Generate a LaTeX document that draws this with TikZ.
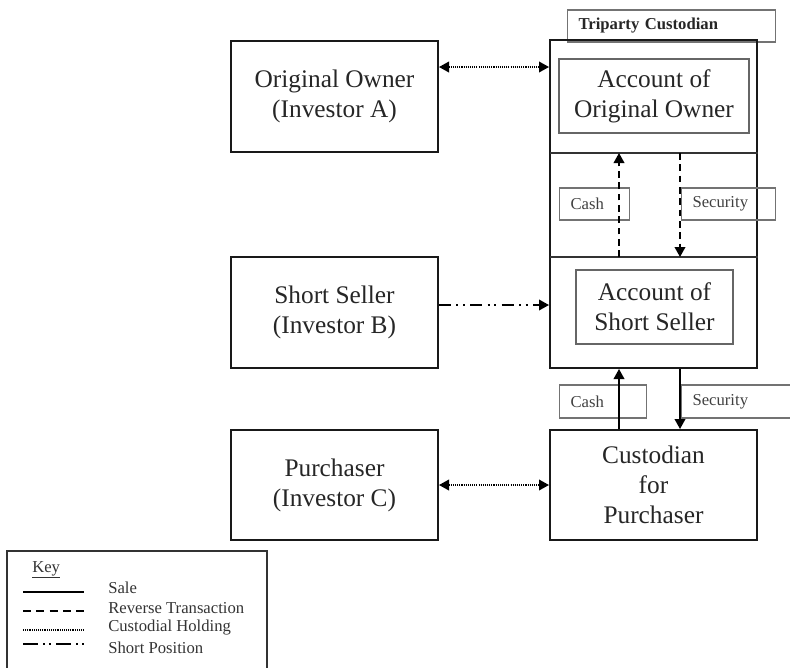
\documentclass[tikz,border=0pt]{standalone}
\usepackage{fontspec}
\setmainfont{Liberation Serif}
\usetikzlibrary{arrows.meta}
\begin{document}
\begin{tikzpicture}[x=0.75pt,y=-0.75pt,
  mainbox/.style={draw=black!90, line width=1.5pt, align=center, inner sep=0pt,
    font=\fontsize{19}{22.5}\selectfont, text=black!85, minimum width=155.25pt},
  acctbox/.style={draw=black!60, line width=1.1pt, align=center, inner sep=0pt,
    font=\fontsize{19}{22.5}\selectfont, text=black!85, minimum height=55.5pt},
  lblbox/.style={draw=black!55, line width=0.8pt, inner ysep=0pt, inner xsep=8.25pt,
    align=left, anchor=west, font=\fontsize{12.5}{14}\selectfont, text=black!75},
  keytext/.style={anchor=west, inner sep=0pt, font=\fontsize{12.5}{14}\selectfont, text=black!80},
  divline/.style={draw=black!80, line width=0.9pt},
  tipped/.style={-{Triangle[length=7.5pt,width=8pt]}},
  bothtip/.style={{Triangle[length=7.5pt,width=8pt]}-{Triangle[length=7.5pt,width=8pt]}},
  conn/.style={draw=black, line width=1.1pt},
  revline/.style={draw=black, line width=1.1pt, dash pattern=on 5pt off 3.5pt},
  custline/.style={draw=black, line width=1.1pt, dash pattern=on 0.8pt off 0.8pt},
  shortline/.style={draw=black, line width=1.1pt, dash pattern=on 9pt off 4pt on 1.5pt off 3.5pt on 1.5pt off 4pt}
]
\useasboundingbox (0,0) rectangle (790,668);
\clip (0,0) rectangle (790,668);

% left column
\node[mainbox, minimum height=83.25pt] (oo) at (334.5,96.5) {Original Owner\\(Investor A)};
\node[mainbox, minimum height=83.25pt] (ss) at (334.5,312.5) {Short Seller\\(Investor B)};
\node[mainbox, minimum height=82.5pt] (pu) at (334.5,485) {Purchaser\\(Investor C)};

% triparty custodian
\node[lblbox, minimum height=24pt, text width=139.5pt, font=\bfseries\fontsize{12.5}{14}\selectfont, text=black!85] (tlab) at (567,26) {Triparty Custodian};
\node[mainbox, minimum height=246pt] (tri) at (653.5,204) {};
\node[acctbox, minimum width=142.5pt] (aoo) at (654,96) {Account of\\Original Owner};
\node[acctbox, minimum width=117.75pt] (ass) at (654.5,307) {Account of\\Short Seller};
\node[mainbox, minimum height=82.5pt] (cp) at (653.5,485) {Custodian\\for\\Purchaser};

\coordinate (dv1) at (550,153);
\coordinate (dv2) at (550,257);
\draw[divline] (dv1) -- (dv1 -| tri.east);
\draw[divline] (dv2) -- (dv2 -| tri.east);

% label boxes
\node[lblbox, minimum height=24pt, text width=36pt] (cash1) at (559,204) {Cash};
\node[lblbox, minimum height=24pt, text width=54pt] (sec1) at (681,204) {Security};
\node[lblbox, minimum height=24.75pt, text width=48.75pt] (cash2) at (559,401.5) {Cash};
\node[lblbox, minimum height=24.75pt, text width=75pt] (sec2) at (681,401.5) {Security};

% vertical transfers
\coordinate (xa) at (619,0);
\coordinate (xb) at (680,0);
\draw[revline, tipped] (dv2 -| xa) -- (dv1 -| xa);
\draw[revline, tipped] (dv1 -| xb) -- (dv2 -| xb);
\draw[conn, tipped] (cp.north -| xa) -- (tri.south -| xa);
\draw[conn, tipped] (tri.south -| xb) -- (cp.north -| xb);

% horizontal links
\coordinate (ya) at (0,67);
\coordinate (yb) at (0,305);
\draw[custline, bothtip] (oo.east |- ya) -- (tri.west |- ya);
\draw[shortline, tipped] (ss.east |- yb) -- (tri.west |- yb);
\draw[custline, bothtip] (pu.east) -- (cp.west);

% key
\node[draw=black!80, line width=1.4pt, minimum width=195pt, minimum height=93pt, anchor=north west, inner sep=0pt] (key) at (6,550) {};
\node[anchor=base west, inner sep=0pt, font=\fontsize{12.5}{14}\selectfont, text=black!80] (keyt) at (32,572) {\underline{Key}};
\coordinate (l1a) at (23,592); \coordinate (l1b) at (84,592);
\coordinate (l2a) at (23,611); \coordinate (l2b) at (84,611);
\coordinate (l3a) at (23,630); \coordinate (l3b) at (84,630);
\coordinate (l4a) at (23,644); \coordinate (l4b) at (84,644);
\draw[conn] (l1a) -- (l1b);
\draw[draw=black, line width=1.1pt, dash pattern=on 6pt off 4pt] (l2a) -- (l2b);
\draw[draw=black, line width=0.8pt, dash pattern=on 0.7pt off 0.7pt] (l3a) -- (l3b);
\draw[draw=black, line width=1.3pt, dash pattern=on 11pt off 4pt on 1.2pt off 3.5pt on 1.2pt off 4pt] (l4a) -- (l4b);
\node[keytext] (k1) at (108,588) {Sale};
\node[keytext] (k2) at (108,608) {Reverse Transaction};
\node[keytext] (k3) at (108,628) {Custodial Holding};
\node[keytext] (k4) at (108,648) {Short Position};
\end{tikzpicture}
\end{document}
